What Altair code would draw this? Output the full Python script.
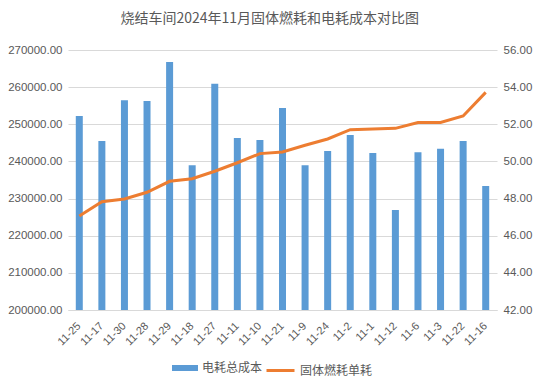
import altair as alt
import pandas as pd

dates = ["11-25", "11-17", "11-30", "11-28", "11-29", "11-18", "11-27", "11-11", "11-10", "11-21",
         "11-9", "11-24", "11-2", "11-1", "11-12", "11-6", "11-3", "11-22", "11-16"]
cost = [252200, 245500, 256500, 256300, 266800, 239000, 260900, 246300, 245800, 254400,
        239000, 242800, 247100, 242300, 226900, 242500, 243400, 245500, 233400]
coal = [47.06, 47.83, 47.98, 48.34, 48.93, 49.07, 49.47, 49.93, 50.42, 50.51,
        50.87, 51.21, 51.71, 51.75, 51.78, 52.10, 52.10, 52.45, 53.72]

FONT = "Noto Sans CJK SC"
NUMFONT = "Liberation Sans"
GREY = "#595959"

df = pd.DataFrame({
    "date": dates,
    "cost": cost,
    "coal": coal,
    "s1": ["电耗总成本"] * len(dates),
    "s2": ["固体燃耗单耗"] * len(dates),
})

base = alt.Chart(df)

x = alt.X("date:N", sort=None, title=None,
          scale=alt.Scale(paddingInner=0.69, paddingOuter=0.345),
          axis=alt.Axis(labelAngle=-45, labelAlign="right", labelBaseline="middle",
                        labelPadding=14, ticks=False, domainColor="#D9D9D9",
                        labelColor=GREY, labelFontSize=11, labelFont=NUMFONT))

bars = base.mark_bar(clip=True).encode(
    x=x,
    y=alt.Y("cost:Q", title=None,
            scale=alt.Scale(domain=[200000, 270000], zero=False, nice=False),
            axis=alt.Axis(values=list(range(200000, 270001, 10000)), format=".2f",
                          domain=False, ticks=False, grid=True, gridColor="#D9D9D9",
                          labelColor=GREY, labelFontSize=11.5, labelFont=NUMFONT, labelPadding=6)),
    fill=alt.Fill("s1:N", scale=alt.Scale(range=["#5B9BD5"]),
                  legend=alt.Legend(title=None, orient="none", legendX=104, legendY=305,
                                    symbolType="M-1,-0.23H1V0.23H-1Z", symbolSize=676,
                                    symbolStrokeWidth=0, labelFontSize=12, labelColor=GREY,
                                    labelFont=FONT, padding=0)),
)

line = base.mark_line(strokeWidth=3).encode(
    x=x,
    y=alt.Y("coal:Q", title=None,
            scale=alt.Scale(domain=[42, 56], zero=False, nice=False),
            axis=alt.Axis(orient="right", values=list(range(42, 57, 2)), format=".2f",
                          domain=False, ticks=False, grid=False,
                          labelColor=GREY, labelFontSize=11.5, labelFont=NUMFONT, labelPadding=6)),
    stroke=alt.Stroke("s2:N", scale=alt.Scale(range=["#ED7D31"]),
                      legend=alt.Legend(title=None, orient="none", legendX=197, legendY=305,
                                        symbolType="stroke", symbolSize=784,
                                        symbolStrokeWidth=3, labelFontSize=12, labelColor=GREY,
                                        labelFont=FONT, padding=0)),
)

chart = alt.layer(bars, line).resolve_scale(y="independent").properties(
    width=429, height=260,
    title=alt.TitleParams("烧结车间2024年11月固体燃耗和电耗成本对比图", anchor="middle",
                          frame="bounds", fontSize=14, fontWeight="normal", color=GREY,
                          font=FONT, offset=18),
    autosize=alt.AutoSizeParams(type="none"),
    padding={"left": 60, "top": 42, "right": 36, "bottom": 71},
).configure_view(stroke=None)

chart.save("out.html", embed_options={"renderer": "svg", "actions": False})
